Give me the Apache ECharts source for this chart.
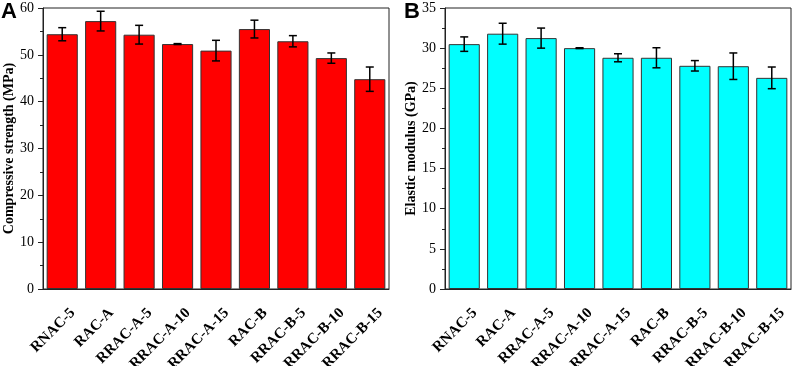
<!DOCTYPE html>
<html>
<head>
<meta charset="utf-8">
<script src="https://cdn.jsdelivr.net/npm/echarts@6/dist/echarts.min.js"></script>
<style>
  html, body { margin: 0; padding: 0; background: #fff; }
  #chart { width: 796px; height: 366px; }
</style>
</head>
<body>
<div id="chart"></div>
<script>
const categories = ['RNAC-5', 'RAC-A', 'RRAC-A-5', 'RRAC-A-10', 'RRAC-A-15', 'RAC-B', 'RRAC-B-5', 'RRAC-B-10', 'RRAC-B-15']
const strength = [54.4, 57.2, 54.3, 52.3, 50.9, 55.5, 52.9, 49.3, 44.8]
const strengthErr = [1.4, 2.1, 2.0, 0.1, 2.2, 1.9, 1.2, 1.1, 2.6]
const modulus = [30.5, 31.8, 31.25, 30.0, 28.8, 28.8, 27.8, 27.75, 26.3]
const modulusErr = [0.9, 1.3, 1.25, 0.05, 0.5, 1.25, 0.65, 1.65, 1.35]

const serif = 'Liberation Serif'

// error bar: vertical line with caps, positions from the axis scales
function errorBar(params, api) {
  const x = api.value(0)
  const lo = api.coord([x, api.value(1)])
  const hi = api.coord([x, api.value(2)])
  const half = 4
  const style = { stroke: '#000', lineWidth: 1.5 }
  return {
    type: 'group',
    children: [
      { type: 'line', shape: { x1: hi[0], y1: hi[1], x2: lo[0], y2: lo[1] }, style },
      { type: 'line', shape: { x1: hi[0] - half, y1: hi[1], x2: hi[0] + half, y2: hi[1] }, style },
      { type: 'line', shape: { x1: lo[0] - half, y1: lo[1], x2: lo[0] + half, y2: lo[1] }, style }
    ]
  }
}

function errData(vals, errs) {
  return vals.map((v, i) => [i, v - errs[i], v + errs[i]])
}

function xAxisOpt(idx) {
  return {
    type: 'category',
    gridIndex: idx,
    data: categories,
    axisLine: { lineStyle: { color: '#222', width: 1 } },
    axisTick: { alignWithLabel: true, length: 5, lineStyle: { color: '#222' } },
    axisLabel: {
      rotate: 45,
      interval: 0,
      margin: 11,
      verticalAlign: 'top',
      lineHeight: 30,
      fontFamily: serif,
      fontWeight: 'bold',
      fontSize: 15,
      color: '#000'
    }
  }
}

function yAxisOpt(idx, name, max, interval) {
  return {
    type: 'value',
    gridIndex: idx,
    min: 0,
    max: max,
    interval: interval,
    name: name,
    nameLocation: 'middle',
    nameGap: 27,
    nameTextStyle: { fontFamily: serif, fontWeight: 'bold', fontSize: 14, color: '#000' },
    axisLine: { show: true, lineStyle: { color: '#222', width: 1 } },
    axisTick: { show: true, length: 5, lineStyle: { color: '#222' } },
    minorTick: { show: true, splitNumber: 2, length: 3, lineStyle: { color: '#222' } },
    splitLine: { show: false },
    axisLabel: { fontFamily: serif, fontSize: 14, color: '#000', margin: 9 }
  }
}

const chart = echarts.init(document.getElementById('chart'))
chart.setOption({
  animation: false,
  title: [
    { text: 'A', left: 1, top: 1, textStyle: { fontFamily: 'Liberation Sans', fontWeight: 'bold', fontSize: 22, color: '#000' }, padding: 0 },
    { text: 'B', left: 404, top: 1, textStyle: { fontFamily: 'Liberation Sans', fontWeight: 'bold', fontSize: 22, color: '#000' }, padding: 0 }
  ],
  grid: [
    { left: 43, top: 8, width: 346, height: 281, show: true, borderColor: '#222', borderWidth: 1, outerBoundsMode: 'none' },
    { left: 445, top: 8, width: 346, height: 281, show: true, borderColor: '#222', borderWidth: 1, outerBoundsMode: 'none' }
  ],
  xAxis: [xAxisOpt(0), xAxisOpt(1)],
  yAxis: [
    yAxisOpt(0, 'Compressive strength (MPa)', 60, 10),
    yAxisOpt(1, 'Elastic modulus (GPa)', 35, 5)
  ],
  series: [
    {
      type: 'bar',
      xAxisIndex: 0,
      yAxisIndex: 0,
      data: strength,
      barCategoryGap: '19%',
      itemStyle: { color: '#ff0000', borderColor: '#333', borderWidth: 1 }
    },
    {
      type: 'custom',
      xAxisIndex: 0,
      yAxisIndex: 0,
      renderItem: errorBar,
      data: errData(strength, strengthErr),
      z: 10
    },
    {
      type: 'bar',
      xAxisIndex: 1,
      yAxisIndex: 1,
      data: modulus,
      barCategoryGap: '19%',
      itemStyle: { color: '#00ffff', borderColor: '#333', borderWidth: 1 }
    },
    {
      type: 'custom',
      xAxisIndex: 1,
      yAxisIndex: 1,
      renderItem: errorBar,
      data: errData(modulus, modulusErr),
      z: 10
    }
  ]
})
</script>
</body>
</html>
